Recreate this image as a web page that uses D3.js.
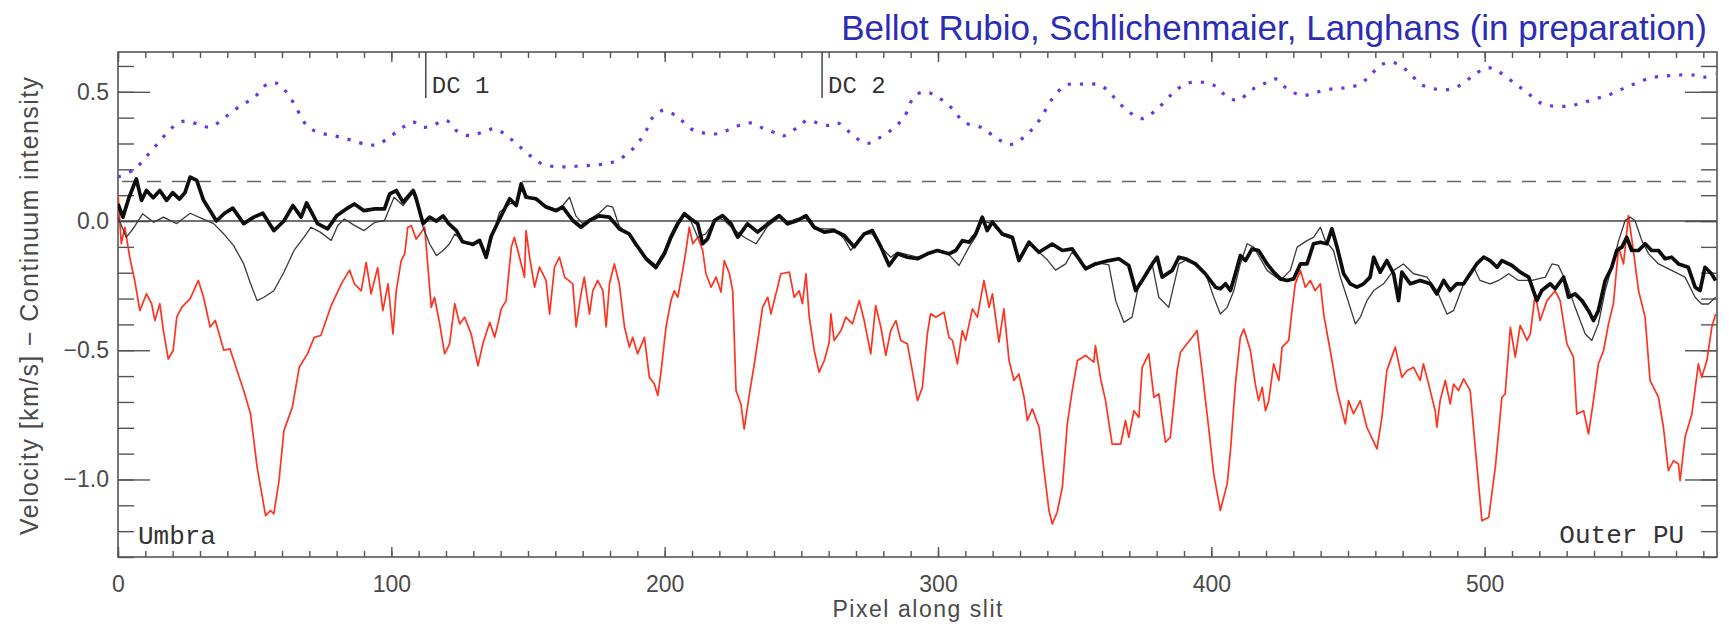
<!DOCTYPE html>
<html>
<head>
<meta charset="utf-8">
<script src="https://cdn.jsdelivr.net/npm/d3@7"></script>
<style>
    body { margin: 0; background: #fff; }
    .tick text { font-family: "Liberation Sans", Arial, sans-serif; fill: #4a4a4a; }
    .mono { font-family: "Liberation Mono", "DejaVu Sans Mono", monospace; fill: #333; }
</style>
</head>
<body>
<div id="chart"></div>
<script>
// ---- data (x = pixel along slit) ----
const xTicks = [0, 100, 200, 300, 400, 500];
const yTicks = [-1.0, -0.5, 0.0, 0.5];
const refLevel = 0.153;
const dcMarks = [{pos: 112.6, label: "DC 1"}, {pos: 257.6, label: "DC 2"}];

// continuum intensity (purple dotted)
const intensity = [[0,0.17],[6,0.2],[10.4,0.25],[15,0.305],[20,0.363],[24.5,0.387],[29.5,0.374],[33.7,0.363],[39,0.4],[44,0.44],[50,0.48],[54.6,0.53],[57.7,0.534],[60.7,0.51],[64.4,0.454],[69,0.37],[73,0.344],[79,0.33],[85,0.314],[91.4,0.295],[95,0.296],[100,0.33],[104.3,0.363],[108,0.383],[111.6,0.363],[115.2,0.37],[120,0.39],[123.8,0.35],[128.6,0.33],[133.5,0.344],[137.8,0.357],[141.4,0.337],[145.7,0.3],[150.6,0.254],[155.4,0.22],[161.5,0.21],[167.6,0.212],[174.3,0.217],[179.8,0.224],[184.7,0.247],[189.5,0.292],[193.2,0.35],[195.6,0.4],[199.5,0.428],[204.8,0.402],[209.6,0.357],[214.5,0.34],[219.4,0.338],[224.3,0.357],[231,0.38],[236.4,0.357],[241.3,0.338],[243.7,0.33],[248.6,0.363],[252.3,0.39],[255.9,0.38],[259.6,0.37],[263.2,0.38],[266.9,0.35],[270.5,0.318],[274.2,0.3],[277.9,0.318],[282.7,0.35],[287.6,0.402],[291.2,0.48],[294.9,0.5],[299.8,0.48],[305.3,0.434],[309.5,0.383],[316.2,0.36],[321.7,0.318],[326.6,0.296],[332,0.33],[337,0.389],[341.8,0.473],[346.7,0.525],[352.8,0.53],[359.5,0.525],[363.7,0.486],[368.6,0.434],[374.7,0.396],[380.2,0.434],[385.7,0.492],[390.5,0.53],[396.6,0.537],[401.5,0.522],[405.8,0.48],[410,0.467],[414.3,0.505],[419.2,0.531],[423.4,0.55],[427.7,0.512],[433.2,0.486],[438.7,0.499],[444.7,0.512],[449.6,0.516],[454.5,0.531],[458.1,0.563],[461.8,0.602],[465.5,0.615],[469.1,0.602],[472.8,0.57],[476.4,0.531],[481.3,0.512],[486.2,0.508],[491,0.525],[495.9,0.563],[500.8,0.593],[504.4,0.583],[506.3,0.57],[511.2,0.531],[516.1,0.492],[520.9,0.454],[524.6,0.445],[530.7,0.445],[535.6,0.457],[541.6,0.476],[546.5,0.492],[551.4,0.516],[556.3,0.537],[561.1,0.555],[566,0.561],[570.9,0.565],[577,0.564],[580.6,0.557],[584.5,0.57]];

// velocity, thick black
const velThick = [[0,0.066],[1.8,0.015],[4,0.09],[6.7,0.163],[8.6,0.08],[10.4,0.118],[12.9,0.09],[15.3,0.118],[17.8,0.08],[20,0.11],[22.5,0.085],[24.5,0.11],[26.4,0.17],[28.8,0.157],[31.3,0.08],[33.7,0.04],[36,0],[39,0.03],[42,0.05],[46,-0.01],[49.7,0.015],[53,0.03],[57,-0.037],[60.7,0],[64,0.06],[67,0.015],[69,0.07],[73,-0.01],[76.7,-0.03],[80,0.02],[84,0.05],[86.5,0.066],[90,0.04],[94,0.047],[97.5,0.047],[99.4,0.105],[101.8,0.118],[104.3,0.073],[108,0.118],[109,0.09],[111.6,-0.01],[114,0.015],[116.5,0],[118.9,0.02],[121,-0.01],[123.8,-0.037],[126,-0.08],[129.8,-0.09],[132.3,-0.075],[134.7,-0.14],[136.5,-0.06],[139.6,0.008],[143.3,0.086],[145.7,0.06],[147.5,0.144],[149.3,0.092],[153,0.086],[156.6,0.054],[160.3,0.04],[162.7,0.054],[166.4,0.002],[169.4,-0.024],[172.5,0.002],[176,0.02],[179.8,0.015],[183.4,-0.03],[187,-0.05],[189.5,-0.09],[193.2,-0.146],[196.8,-0.18],[199.9,-0.127],[202.3,-0.063],[204.8,-0.011],[207.2,0.028],[209.6,0.008],[212.1,-0.011],[213.9,-0.088],[215.7,-0.069],[218.2,0.002],[221.2,0.021],[224.3,-0.011],[226.7,-0.063],[230.3,-0.011],[234,-0.043],[237.7,-0.011],[241.9,0.021],[245,-0.011],[248.6,0.002],[251.7,0.021],[254.7,-0.024],[258.4,-0.043],[262,-0.037],[265.7,-0.056],[269.3,-0.1],[273,-0.05],[276,-0.037],[279.1,-0.1],[282.1,-0.172],[285.2,-0.127],[288.8,-0.14],[292.5,-0.146],[296.1,-0.127],[299.8,-0.114],[304,-0.127],[306.5,-0.114],[308.9,-0.076],[311.4,-0.082],[313.8,-0.05],[316.2,0.015],[318,-0.037],[319.9,-0.004],[323.5,-0.05],[327.2,-0.063],[329.6,-0.153],[333.3,-0.082],[336.9,-0.121],[341.8,-0.089],[345.5,-0.114],[349.1,-0.108],[354,-0.185],[357.7,-0.166],[362.5,-0.153],[366.2,-0.146],[369.8,-0.172],[372.3,-0.269],[374.7,-0.23],[378.4,-0.166],[380.2,-0.14],[382,-0.217],[385.7,-0.191],[388.1,-0.14],[390.5,-0.146],[394.2,-0.166],[397.8,-0.204],[401.5,-0.256],[403.3,-0.262],[405.2,-0.243],[407,-0.269],[408.8,-0.204],[410.6,-0.134],[412.5,-0.153],[414.9,-0.108],[417.3,-0.114],[420.4,-0.166],[422.8,-0.198],[425.3,-0.224],[427.7,-0.23],[430.1,-0.224],[432.6,-0.166],[435,-0.166],[437.4,-0.088],[439.9,-0.082],[442.3,-0.088],[444.1,-0.03],[446,-0.101],[448.4,-0.204],[450.8,-0.243],[453.3,-0.256],[455.7,-0.243],[458.1,-0.217],[459.4,-0.14],[461.8,-0.198],[464.2,-0.153],[466.7,-0.204],[468.5,-0.308],[469.7,-0.198],[472.8,-0.243],[476.4,-0.23],[480.1,-0.243],[482.5,-0.282],[485,-0.23],[487.4,-0.269],[489.8,-0.243],[492.3,-0.243],[494.7,-0.204],[497.1,-0.166],[499.6,-0.14],[502,-0.153],[504.5,-0.179],[506.3,-0.153],[510,-0.172],[513,-0.198],[516.1,-0.217],[519.1,-0.308],[520.9,-0.269],[524,-0.243],[525.8,-0.262],[528.9,-0.217],[530.7,-0.295],[533.1,-0.282],[535.6,-0.308],[538,-0.347],[539.8,-0.385],[541.6,-0.347],[544.1,-0.23],[546.5,-0.179],[548.3,-0.114],[550.2,-0.101],[552,-0.063],[553.8,-0.114],[556.3,-0.114],[558.7,-0.088],[561.1,-0.114],[563.6,-0.114],[566,-0.146],[568.4,-0.14],[570.9,-0.166],[574.5,-0.179],[577,-0.256],[578.8,-0.269],[580.6,-0.179],[583,-0.204],[584.5,-0.23]];

// velocity, thin grey
const velThin = [[0,0.015],[3,-0.063],[5.5,-0.03],[9,0.028],[13,-0.005],[16.6,0.015],[21.5,-0.01],[26.4,0.03],[31,0.008],[35,-0.01],[38.7,-0.05],[42.3,-0.095],[46,-0.166],[48.5,-0.243],[50.9,-0.308],[53.4,-0.295],[57,-0.27],[60.7,-0.198],[64.4,-0.114],[68,-0.063],[70.6,-0.024],[74,-0.043],[78,-0.075],[80.4,-0.017],[82.8,0.008],[86.5,-0.017],[90,-0.037],[94,-0.005],[97.5,0.002],[101,0.092],[104.3,0.06],[108,0.11],[109.5,0.08],[111.6,-0.024],[114,-0.088],[116.5,-0.134],[118.9,-0.114],[121.3,-0.088],[123.2,-0.05],[126,-0.075],[129.8,-0.095],[132.3,-0.08],[134.7,-0.146],[137.2,-0.05],[139.6,0.034],[143.3,0.066],[145.7,0.07],[147.5,0.118],[149.3,0.1],[153,0.08],[156.6,0.06],[160.3,0.045],[162.7,0.06],[165.2,0.092],[167.5,0.02],[170,-0.01],[173,0.01],[176,0.03],[179,0.06],[181,0.054],[183.4,-0.02],[187,-0.055],[189.5,-0.095],[193.2,-0.14],[196.8,-0.17],[199.9,-0.114],[202.3,-0.05],[204.8,0],[207.2,0.021],[209.6,0],[212.1,-0.063],[215,-0.05],[219.4,0.015],[222,0],[225,-0.03],[229.1,-0.063],[233.4,-0.088],[237.7,-0.02],[241.9,0.015],[245,-0.005],[248.6,0.01],[251.7,0.01],[254.7,-0.03],[258.4,-0.03],[262,-0.03],[265.7,-0.07],[268.1,-0.114],[271,-0.07],[273,-0.05],[276,-0.05],[279.1,-0.1],[282.7,-0.14],[285.2,-0.12],[288.8,-0.13],[292.5,-0.14],[296.1,-0.13],[299.8,-0.114],[304,-0.13],[307.7,-0.172],[311.4,-0.1],[313.8,-0.06],[316.2,0],[319.9,-0.01],[323.5,-0.055],[327.2,-0.07],[329.6,-0.14],[333.3,-0.09],[336.9,-0.12],[340,-0.15],[343,-0.19],[346.7,-0.166],[349.1,-0.12],[354,-0.18],[357.7,-0.16],[362.5,-0.17],[365,-0.308],[368,-0.392],[371,-0.372],[373.5,-0.243],[376.5,-0.2],[378.4,-0.17],[380.8,-0.295],[384.4,-0.334],[388.1,-0.166],[391,-0.15],[394.2,-0.17],[397.8,-0.2],[400.9,-0.295],[403.3,-0.36],[405.8,-0.334],[408.2,-0.27],[410.6,-0.166],[413.1,-0.088],[415.5,-0.101],[420.4,-0.191],[425.3,-0.23],[428.9,-0.191],[431.4,-0.101],[435,-0.076],[437.4,-0.063],[439.9,-0.024],[441.7,-0.076],[444.7,-0.114],[447.2,-0.217],[449.6,-0.295],[452.7,-0.398],[454.5,-0.372],[456.9,-0.308],[459.4,-0.269],[463,-0.243],[466.7,-0.191],[470.3,-0.166],[474,-0.204],[478.9,-0.217],[482.5,-0.269],[486.2,-0.36],[488.6,-0.347],[492.3,-0.243],[496,-0.179],[498.3,-0.23],[502,-0.243],[505.1,-0.23],[508.8,-0.204],[512.4,-0.23],[517.3,-0.23],[522.2,-0.217],[524.6,-0.166],[527,-0.172],[530.1,-0.243],[533.1,-0.334],[536.8,-0.437],[539.2,-0.462],[541.6,-0.398],[544.1,-0.269],[546.5,-0.179],[549,-0.076],[551.4,0.002],[553.2,0.015],[555,0.002],[557.5,-0.076],[560,-0.127],[563.6,-0.166],[568.4,-0.191],[573.3,-0.217],[577,-0.295],[579.4,-0.321],[581.9,-0.321],[584.5,-0.295]];

// velocity, red
const velRed = [[0,0.105],[1.2,-0.088],[2.5,-0.024],[4.3,-0.14],[6.1,-0.23],[8,-0.347],[10.4,-0.282],[12.3,-0.32],[13.5,-0.385],[15.3,-0.32],[16.6,-0.424],[18.4,-0.534],[20.2,-0.5],[21.5,-0.372],[23.3,-0.334],[26.4,-0.3],[29.4,-0.23],[31.3,-0.295],[33.7,-0.41],[35.6,-0.385],[38.7,-0.5],[41,-0.495],[43.6,-0.58],[46,-0.656],[48.5,-0.747],[50.9,-0.953],[54,-1.14],[55.8,-1.12],[57,-1.133],[58.9,-1.005],[60.7,-0.811],[63.8,-0.72],[66.3,-0.566],[69.3,-0.514],[71.8,-0.45],[74.2,-0.443],[78,-0.327],[81.7,-0.243],[84.7,-0.19],[86.5,-0.243],[89,-0.27],[90.8,-0.16],[92.6,-0.282],[95,-0.18],[96.9,-0.347],[98.8,-0.243],[100.6,-0.437],[101.8,-0.27],[103.6,-0.153],[104.9,-0.127],[106,-0.024],[107.3,-0.018],[109.1,-0.07],[111,-0.043],[112.2,-0.024],[113.4,-0.18],[114.6,-0.334],[115.8,-0.295],[117.7,-0.398],[119.5,-0.514],[121.3,-0.475],[123.2,-0.32],[125,-0.398],[126.8,-0.372],[129.2,-0.437],[131.7,-0.56],[133.5,-0.475],[136,-0.392],[137.8,-0.45],[139,-0.398],[140.2,-0.34],[142,-0.308],[143.9,-0.101],[145,-0.063],[146.9,-0.14],[148.7,-0.217],[149.3,-0.037],[150.6,-0.14],[152.4,-0.256],[154.2,-0.178],[156.6,-0.23],[157.9,-0.36],[159.7,-0.178],[161.5,-0.14],[163.4,-0.217],[166.4,-0.243],[167.6,-0.41],[169.4,-0.282],[170.6,-0.217],[172.5,-0.36],[173.7,-0.27],[175.5,-0.23],[177.4,-0.27],[178.6,-0.41],[179.8,-0.243],[181.6,-0.166],[183.4,-0.243],[185.3,-0.41],[187.1,-0.488],[188.3,-0.45],[190.1,-0.514],[192.6,-0.45],[194.4,-0.605],[196.2,-0.63],[197.5,-0.675],[198.7,-0.58],[200.5,-0.41],[202.3,-0.308],[203.5,-0.27],[204.8,-0.295],[206.6,-0.191],[207.8,-0.114],[209,-0.024],[210.3,-0.088],[212.1,-0.063],[213.9,-0.114],[215.1,-0.204],[217,-0.256],[218.8,-0.217],[220.6,-0.275],[221.8,-0.153],[223.7,-0.204],[224.9,-0.27],[226.1,-0.656],[227.9,-0.708],[229.1,-0.805],[231,-0.669],[232.8,-0.553],[234.6,-0.424],[235.8,-0.334],[237.7,-0.295],[238.9,-0.359],[240.7,-0.282],[242.5,-0.204],[245.6,-0.198],[247.4,-0.295],[249.2,-0.27],[250.4,-0.32],[251.7,-0.204],[252.9,-0.372],[254.7,-0.5],[256.5,-0.585],[258.4,-0.54],[260.2,-0.469],[260.8,-0.359],[262,-0.462],[264.5,-0.424],[266.3,-0.372],[268.7,-0.398],[271.2,-0.308],[273,-0.385],[274.2,-0.45],[275.4,-0.514],[277.2,-0.327],[279.1,-0.411],[280.9,-0.52],[282.7,-0.424],[284.6,-0.385],[286.4,-0.462],[288.8,-0.475],[290.6,-0.579],[292.5,-0.695],[294.3,-0.643],[296.1,-0.437],[297.3,-0.359],[299.2,-0.372],[302.2,-0.353],[304,-0.45],[305.3,-0.462],[307.1,-0.553],[308.9,-0.424],[310.1,-0.462],[312.6,-0.34],[314.4,-0.372],[316.8,-0.23],[318.7,-0.334],[319.9,-0.282],[322.3,-0.469],[324.1,-0.34],[326,-0.54],[327.8,-0.617],[329.6,-0.592],[331.5,-0.682],[332.7,-0.772],[334.5,-0.727],[337,-0.798],[338.8,-0.966],[340.6,-1.12],[341.8,-1.172],[343.6,-1.127],[345.5,-1.03],[347.3,-0.785],[349.1,-0.656],[351,-0.54],[354,-0.52],[357,-0.546],[357.6,-0.482],[359.5,-0.611],[361.3,-0.695],[363.7,-0.863],[366.8,-0.863],[368.6,-0.772],[369.8,-0.837],[371.7,-0.734],[373.5,-0.76],[374.7,-0.566],[377.1,-0.514],[379,-0.682],[380.8,-0.669],[383.2,-0.856],[385,-0.837],[387.5,-0.579],[388.7,-0.508],[391.1,-0.475],[393,-0.45],[394.8,-0.424],[396.6,-0.579],[399,-0.798],[400.9,-0.98],[403.3,-1.12],[405.8,-1.017],[407,-0.889],[408.8,-0.631],[410.6,-0.45],[411.9,-0.418],[414.3,-0.501],[416.1,-0.631],[417.3,-0.695],[418.6,-0.643],[419.8,-0.734],[421,-0.695],[422.8,-0.553],[424.7,-0.617],[425.9,-0.488],[428.3,-0.462],[429.5,-0.347],[430.7,-0.243],[432.6,-0.191],[434.4,-0.256],[436.2,-0.23],[438,-0.269],[439.9,-0.243],[441.1,-0.36],[443.5,-0.501],[446,-0.656],[449,-0.785],[450.2,-0.695],[452,-0.746],[454.5,-0.695],[456.9,-0.798],[460.6,-0.882],[462.4,-0.76],[464.2,-0.579],[467.3,-0.488],[469.7,-0.605],[471.5,-0.579],[474,-0.566],[476.4,-0.617],[477.6,-0.553],[479.5,-0.631],[481.9,-0.734],[482.5,-0.798],[483.7,-0.695],[485.6,-0.617],[487.4,-0.708],[488.6,-0.631],[490.4,-0.656],[492.3,-0.611],[494.7,-0.656],[497.1,-0.94],[499,-1.16],[501.5,-1.146],[503.9,-0.953],[506.3,-0.682],[507.5,-0.669],[509.4,-0.411],[511.2,-0.527],[513,-0.404],[515.5,-0.462],[516.7,-0.437],[518.5,-0.282],[520.3,-0.385],[522.8,-0.308],[525.8,-0.27],[527.6,-0.308],[530.1,-0.475],[532.5,-0.527],[533.7,-0.747],[536.2,-0.734],[538,-0.824],[539.8,-0.695],[541.6,-0.553],[543.5,-0.501],[545.3,-0.398],[547.1,-0.32],[549,-0.101],[550.8,-0.166],[552.6,0.021],[554.4,-0.114],[556.3,-0.27],[558.7,-0.372],[560.5,-0.617],[563.6,-0.682],[565.4,-0.798],[567.2,-0.966],[569.1,-0.927],[570.9,-0.94],[571.5,-1.005],[573.3,-0.837],[575.8,-0.747],[578.2,-0.553],[579.4,-0.605],[581.3,-0.54],[583.1,-0.411],[584.5,-0.36]];

class SlitProfile {
    constructor(id) {
        this.id = id;
    }

    init() {
        const self = this;
        self.W = 1729;
        self.H = 627;
        self.margin = {top: 52, right: 12, bottom: 70, left: 118};
        self.width = self.W - self.margin.left - self.margin.right;
        self.height = self.H - self.margin.top - self.margin.bottom;

        self.svg = d3.select(`#${self.id}`)
            .append("svg")
            .attr("width", self.W)
            .attr("height", self.H)
            .style("display", "block");

        self.g = self.svg.append("g")
            .attr("transform", `translate(${self.margin.left},${self.margin.top})`);

        self.x = d3.scaleLinear().domain([0, 585]).range([0, self.width]);
        self.y = d3.scaleLinear().domain([-1.3, 0.654]).range([self.height, 0]);

        self.g.append("clipPath").attr("id", "plotclip")
            .append("rect").attr("width", self.width).attr("height", self.height);

        return self.drawAxes();
    }

    drawAxes() {
        const self = this;
        const fmt = d => d.toFixed(1).replace("-", "\u2212");
        const minorX = d3.range(0, 586, 10);
        const minorY = d3.range(-13, 7).map(d => d / 10);
        const axisColor = "#555";

        // minor ticks, all four sides, pointing inwards
        const minors = [
            [d3.axisBottom(self.x).tickValues(minorX).tickSize(-6), `translate(0,${self.height})`],
            [d3.axisTop(self.x).tickValues(minorX).tickSize(-6), "translate(0,0)"],
            [d3.axisLeft(self.y).tickValues(minorY).tickSize(-16), "translate(0,0)"],
            [d3.axisRight(self.y).tickValues(minorY).tickSize(-16), `translate(${self.width},0)`]
        ];
        minors.forEach(([ax, tr]) => {
            const a = self.g.append("g").attr("transform", tr).call(ax.tickFormat(""));
            a.select(".domain").remove();
            a.selectAll("line").attr("stroke", axisColor).attr("stroke-width", 1.4);
        });

        // major ticks with labels
        const bottom = self.g.append("g").attr("transform", `translate(0,${self.height})`)
            .call(d3.axisBottom(self.x).tickValues(xTicks).tickSize(-10).tickPadding(19).tickFormat(d3.format("d")));
        bottom.selectAll("text").attr("font-size", 23);

        const top = self.g.append("g")
            .call(d3.axisTop(self.x).tickValues(xTicks).tickSize(-10).tickFormat(""));

        const left = self.g.append("g")
            .call(d3.axisLeft(self.y).tickValues(yTicks).tickSize(-32).tickPadding(9).tickFormat(fmt));
        left.selectAll("text").attr("font-size", 23);

        const right = self.g.append("g").attr("transform", `translate(${self.width},0)`)
            .call(d3.axisRight(self.y).tickValues(yTicks).tickSize(-32).tickFormat(""));

        [bottom, top, left, right].forEach(a => {
            a.select(".domain").remove();
            a.selectAll("line").attr("stroke", axisColor).attr("stroke-width", 1.4);
        });

        // frame
        self.g.append("rect")
            .attr("width", self.width).attr("height", self.height)
            .attr("fill", "none").attr("stroke", axisColor).attr("stroke-width", 1.6);

        // axis titles
        self.svg.append("text")
            .attr("transform", `translate(38,306) rotate(-90)`)
            .attr("text-anchor", "middle")
            .attr("font-family", "Liberation Sans, Arial, sans-serif")
            .attr("font-size", 25)
            .attr("fill", "#4a4a4a")
            .attr("textLength", 458)
            .attr("lengthAdjust", "spacing")
            .text("Velocity [km/s] \u2212 Continuum intensity");

        self.svg.append("text")
            .attr("x", self.margin.left + self.width / 2)
            .attr("y", 617)
            .attr("text-anchor", "middle")
            .attr("font-family", "Liberation Sans, Arial, sans-serif")
            .attr("font-size", 23)
            .attr("fill", "#4a4a4a")
            .attr("textLength", 170)
            .attr("lengthAdjust", "spacing")
            .text("Pixel along slit");

        // credit line
        self.svg.append("text")
            .attr("x", 1707)
            .attr("y", 40)
            .attr("text-anchor", "end")
            .attr("font-family", "Liberation Sans, Arial, sans-serif")
            .attr("font-size", 35)
            .attr("fill", "#2B2DB5")
            .text("Bellot Rubio, Schlichenmaier, Langhans (in preparation)");

        return self.draw();
    }

    draw() {
        const self = this;
        const line = d3.line().x(d => self.x(d[0])).y(d => self.y(d[1]));
        const plot = self.g.append("g").attr("clip-path", "url(#plotclip)");

        // reference levels
        plot.append("line")
            .attr("x1", 0).attr("x2", self.width)
            .attr("y1", self.y(0)).attr("y2", self.y(0))
            .attr("stroke", "#444").attr("stroke-width", 1.5);
        plot.append("line")
            .attr("x1", 4).attr("x2", self.width)
            .attr("y1", self.y(refLevel)).attr("y2", self.y(refLevel))
            .attr("stroke", "#666").attr("stroke-width", 1.6)
            .attr("stroke-dasharray", "14,11");

        plot.append("path").datum(intensity)
            .attr("d", line.curve(d3.curveCatmullRom))
            .attr("fill", "none").attr("stroke", "#6A35E2")
            .attr("stroke-width", 3.2).attr("stroke-dasharray", "3.2,9");
        line.curve(d3.curveLinear);

        plot.append("path").datum(velRed)
            .attr("d", line)
            .attr("fill", "none").attr("stroke", "#FF3320")
            .attr("stroke-width", 1.7).attr("stroke-linejoin", "round");

        plot.append("path").datum(velThin)
            .attr("d", line)
            .attr("fill", "none").attr("stroke", "#3a3a3a")
            .attr("stroke-width", 1.3).attr("stroke-linejoin", "round");

        plot.append("path").datum(velThick)
            .attr("d", line)
            .attr("fill", "none").attr("stroke", "#0d0d0d")
            .attr("stroke-width", 3.7).attr("stroke-linejoin", "round");

        // DC markers
        const dc = self.g.selectAll(".dc").data(dcMarks).enter().append("g").attr("class", "dc");
        dc.append("line")
            .attr("x1", d => self.x(d.pos)).attr("x2", d => self.x(d.pos))
            .attr("y1", 0).attr("y2", 46)
            .attr("stroke", "#444").attr("stroke-width", 1.5);
        dc.append("text")
            .attr("class", "mono")
            .attr("x", d => self.x(d.pos) + 6)
            .attr("y", 41)
            .attr("font-size", 24)
            .text(d => d.label);

        // region labels
        self.g.append("text").attr("class", "mono")
            .attr("x", self.x(7.3)).attr("y", self.y(-1.3) - 13)
            .attr("font-size", 26)
            .text("Umbra");
        self.g.append("text").attr("class", "mono")
            .attr("x", self.x(573)).attr("y", self.y(-1.3) - 14)
            .attr("text-anchor", "end")
            .attr("font-size", 26)
            .text("Outer PU");
    }
}

new SlitProfile("chart").init();
</script>
</body>
</html>
